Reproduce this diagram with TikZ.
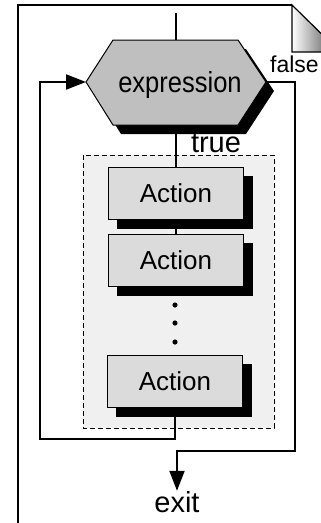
\documentclass[tikz,border=0pt]{standalone}
\usepackage{fontspec}
\setmainfont{Liberation Sans}
\usetikzlibrary{arrows.meta,shadows,calc}
\tikzset{
    flowline/.style={line width=2pt},
    flowarrow/.style={line width=2pt,-{Triangle[length=20pt,width=15pt]}},
    actbox/.style={draw,line width=0.8pt,fill=black!14,minimum width=135pt,minimum height=52pt,inner sep=0pt,
        copy shadow={shadow xshift=9pt,shadow yshift=-9pt,fill=black,draw=black},
        font=\fontsize{26}{30}\selectfont},
    lbl/.style={inner sep=0pt,anchor=base,font=\fontsize{29}{32}\selectfont}
}

\begin{document}
\begin{tikzpicture}[x=1pt,y=-1pt]
  % Picture frame (pixel units, y downwards)
  \useasboundingbox (0,0) rectangle (321,523);

  % Page outline with folded corner
  \draw[line width=1.4pt] (18,540) -- (18,5) -- (292,5);
  \shade[left color=white,right color=black!75,draw=black,line width=1.2pt]
    (292,5) -- (292,52) -- (340,52) -- cycle;

  % Loop body background
  \draw[dash pattern=on 5pt off 3pt,line width=1pt,fill=black!6] (83,155) rectangle (274,428);

  % Hexagon vertices
  \coordinate (hexW) at (86,82);
  \coordinate (hexE) at (266,82);
  \coordinate (hexN) at (176,40);
  \coordinate (hexS) at (176,125);

  % Decision hexagon with shadow
  \fill[shift={(8,9)}] (86,82) -- (113,40) -- (238,40) -- (266,82) -- (238,125) -- (113,125) -- cycle;
  \draw[line width=1pt,fill=black!25] (86,82) -- (113,40) -- (238,40) -- (266,82) -- (238,125) -- (113,125) -- cycle;
  \node[lbl] (expr) at (180,92) {\addfontfeature{FakeStretch=0.88}expression};

  % Actions
  \node[actbox] (act1) at (176,193) {Action};
  \node[actbox] (act2) at (176,260) {Action};
  \node[actbox] (act3) at (175,381) {Action};
  \foreach \y in {305,323,342}{
    \fill (175,\y) circle (2.6pt);
  }

  % Labels
  \node[lbl,anchor=base west,font=\fontsize{23}{26}\selectfont] (falselbl) at (270,72) {false};
  \node[lbl] (truelbl) at (216,152) {true};
  \node[lbl] (exit) at (177,512) {exit};

  % Flow lines
  \coordinate (start) at (176,13);
  \draw[flowline] (start) -- (hexN);
  \draw[flowline] (hexS) -- (act1.north);
  \draw[flowline] (act1.south) -- (act2.north);
  \draw[flowarrow] (act3.south) -- ++(0,32) -| ($(hexW)+(-46,0)$) -- (hexW);
  \draw[flowarrow] (hexE) -- ++(29,0) |- ($(exit.north)+(0,-40)$) -- (exit.north);

\end{tikzpicture}
\end{document}
